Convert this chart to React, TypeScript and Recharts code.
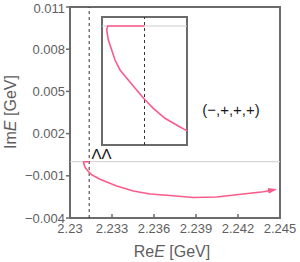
import { Label, Line, LineChart, ReferenceArea, ReferenceDot, ReferenceLine, XAxis, YAxis } from "recharts";

// pole trajectory in the complex energy plane (GeV)
const reE = [
  2.23137, 2.23098, 2.23097, 2.230987, 2.231023, 2.231058, 2.231111, 2.231198, 2.231287, 2.231368,
  2.231463, 2.231587, 2.231728, 2.231817, 2.232143, 2.233336, 2.234521, 2.235714, 2.237143, 2.238807,
  2.240479, 2.242379, 2.243807, 2.244643,
];
const imE = [
  0, 0, -0.000041, -0.000144, -0.000246, -0.000349, -0.000451, -0.000554, -0.000656, -0.000748,
  -0.000844, -0.000946, -0.001025, -0.001073, -0.00124, -0.00172, -0.00208, -0.002294, -0.002401, -0.002543,
  -0.002507, -0.002294, -0.00213, -0.001974,
];

const threshold = 2.23137; // ΛΛ threshold
const xTicks = [2.23, 2.233, 2.236, 2.239, 2.242, 2.245];
const yTicks = [-0.004, -0.001, 0.002, 0.005, 0.008, 0.011];
const insetX = [2.23092, 2.23182];
const insetY = [-0.00122, 0.000092];
const thresholdLabel = "ΛΛ";
const signLabel = "(−,+,+,+)";

const data = reE.map((re, i) => ({ re, im: imE[i] }));

const PINK = "#fb5b8b";
const FRAME = "#6b6b6b";
const TEXT = "#5e5e5e";

const fmtY = (v: number) => (v < 0 ? "\u2212" + Math.abs(v).toFixed(3) : v.toFixed(3));
const fmtX = (v: number) => (v === 2.23 ? "2.23" : v.toFixed(3));

export default function App() {
  return (
    <div style={{ position: "absolute", left: 0, top: 0, width: 300, height: 262, background: "#fff", fontFamily: "'Liberation Sans', Arial, sans-serif" }}>
      <LineChart width={300} height={262} data={data} margin={{ top: 7, right: 20, bottom: 14, left: 10 }}>
        <defs>
          <marker id="arrowHead" markerWidth={9} markerHeight={6} refX={7} refY={3} orient="auto" markerUnits="userSpaceOnUse">
            <path d="M0,0 L9,3 L0,6 z" fill={PINK} />
          </marker>
        </defs>
        <XAxis
          type="number"
          dataKey="re"
          domain={[2.23, 2.245]}
          ticks={xTicks}
          tickFormatter={fmtX}
          height={30}
          axisLine={false}
          tickLine={{ stroke: FRAME, strokeWidth: 1.5 }}
          tickSize={-4}
          tickMargin={10}
          tick={{ fill: TEXT, fontSize: 13 }}
        >
          <Label
            content={({ viewBox }: any) => (
              <text x={viewBox.x + viewBox.width / 2 - 3} y={257} textAnchor="middle" fill={TEXT} fontSize={16}>
                Re<tspan fontStyle="italic">E</tspan> [GeV]
              </text>
            )}
          />
        </XAxis>
        <YAxis
          type="number"
          domain={[-0.004, 0.011]}
          ticks={yTicks}
          tickFormatter={fmtY}
          width={60}
          axisLine={false}
          tickLine={{ stroke: FRAME, strokeWidth: 1.5 }}
          tickSize={4}
          tickMargin={1}
          tick={{ fill: TEXT, fontSize: 13 }}
        >
          <Label
            content={() => (
              <text x={10} y={112} transform="rotate(-90 10 112)" textAnchor="middle" dominantBaseline="central" fill={TEXT} fontSize={16}>
                Im<tspan fontStyle="italic">E</tspan> [GeV]
              </text>
            )}
          />
        </YAxis>
        <ReferenceLine y={0} stroke="#cfcfcf" strokeWidth={1} />
        <ReferenceLine x={threshold} stroke="#333" strokeDasharray="3 3" strokeWidth={1} />
        <ReferenceArea x1={2.23} x2={2.245} y1={-0.004} y2={0.011} fill="none" stroke={FRAME} strokeWidth={2} />
        <Line
          type="linear"
          dataKey="im"
          stroke={PINK}
          strokeWidth={1.6}
          dot={false}
          isAnimationActive={false}
          markerEnd="url(#arrowHead)"
        />
        <ReferenceDot x={2.23225} y={0.00055} r={0} label={{ value: thresholdLabel, position: "center", fill: "#111", fontSize: 15 }} />
        <ReferenceDot x={2.2415} y={0.00368} r={0} label={{ value: signLabel, position: "center", fill: "#1a1a1a", fontSize: 15 }} />
      </LineChart>

      <div style={{ position: "absolute", left: 100, top: 15, width: 89, height: 132, background: "#fff" }}>
        <LineChart width={89} height={132} data={data} margin={{ top: 2, right: 2, bottom: 2, left: 2 }}>
          <XAxis type="number" dataKey="re" domain={insetX} allowDataOverflow hide />
          <YAxis type="number" domain={insetY} allowDataOverflow hide />
          <ReferenceLine y={0} stroke="#cfcfcf" strokeWidth={1} />
          <ReferenceLine x={threshold} stroke="#333" strokeDasharray="3 3" strokeWidth={1} />
          <Line type="linear" dataKey="im" stroke={PINK} strokeWidth={1.6} dot={false} isAnimationActive={false} />
          <ReferenceArea x1={insetX[0]} x2={insetX[1]} y1={insetY[0]} y2={insetY[1]} fill="none" stroke={FRAME} strokeWidth={2} />
        </LineChart>
      </div>
    </div>
  );
}
